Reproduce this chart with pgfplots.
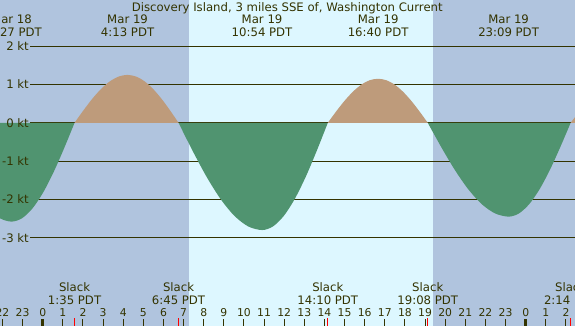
\documentclass[border=0pt]{standalone}
\usepackage{pgfplots}
\pgfplotsset{compat=1.18}
\usepackage{fontspec}
\setmainfont{DejaVu Sans}
\definecolor{night}{RGB}{176,196,222}
\definecolor{day}{RGB}{221,247,255}
\definecolor{ebb}{RGB}{80,148,112}
\definecolor{flood}{RGB}{190,155,123}
\definecolor{fg}{RGB}{51,51,0}
\tikzset{
  lab/.style={text=fg, font=\fontsize{11.7}{14}\selectfont, inner sep=0pt},
  hr/.style={text=fg, font=\fontsize{10.8}{12}\selectfont, inner sep=0pt, anchor=base},
}
\begin{document}
\begin{tikzpicture}
\useasboundingbox (0,0) rectangle (575pt,326pt);
\begin{axis}[scale only axis, width=575pt, height=326pt,
  at={(0,0)}, anchor=south west,
  xmin=-2.122, xmax=26.45, ymin=-5.305, ymax=3.206,
  axis lines=none, clip=true,
]
% backgrounds
\fill[night] (rel axis cs:0,0) rectangle (rel axis cs:1,1);
\fill[day] (axis cs:7.27,-6) rectangle (axis cs:19.38,4);
% grid lines
\pgfplotsinvokeforeach{2,1,0,-1,-2,-3}{
  \draw[fg, line width=1pt] (axis cs:-0.631,#1) -- (axis cs:27,#1);
}
% ebb (negative) areas
\addplot[fill=ebb, draw=none, smooth] coordinates {
(-3.275,-1.824) (-2.70,-2.234) (-2.125,-2.492) (-1.55,-2.58) (-1.028,-2.492) (-0.506,-2.234) (0.017,-1.824) (0.539,-1.29) (1.061,-0.668) (1.583,0)
} \closedcycle;
\addplot[fill=flood, draw=none, smooth] coordinates {
(1.583,0) (2.022,0.3235) (2.461,0.625) (2.900,0.884) (3.339,1.0825) (3.778,1.2074) (4.217,1.25) (4.639,1.2074) (5.061,1.0825) (5.483,0.884) (5.906,0.625) (6.328,0.3235) (6.75,0)
} \closedcycle;
\addplot[fill=ebb, draw=none, smooth] coordinates {
(6.75,0) (7.442,-0.7246) (8.133,-1.4) (8.825,-1.980) (9.517,-2.425) (10.208,-2.7045) (10.9,-2.8) (11.444,-2.7045) (11.989,-2.425) (12.533,-1.980) (13.078,-1.4) (13.622,-0.7246) (14.167,0)
} \closedcycle;
\addplot[fill=flood, draw=none, smooth] coordinates {
(14.167,0) (14.583,0.2976) (15.0,0.575) (15.417,0.8132) (15.833,0.9959) (16.25,1.1108) (16.667,1.15) (17.078,1.1108) (17.489,0.9959) (17.9,0.8132) (18.311,0.575) (18.722,0.2976) (19.133,0)
} \closedcycle;
\addplot[fill=ebb, draw=none, smooth] coordinates {
(19.133,0) (19.803,-0.634) (20.472,-1.225) (21.142,-1.7324) (21.811,-2.1217) (22.481,-2.3665) (23.15,-2.45) (23.664,-2.3665) (24.178,-2.1217) (24.692,-1.7324) (25.206,-1.225) (25.719,-0.634) (26.233,0)
} \closedcycle;
\addplot[fill=flood, draw=none, smooth] coordinates {
(26.233,0) (26.69,0.31) (27.15,0.6)
} \closedcycle;
% y labels
\node[lab, anchor=east] at (axis cs:-0.68,2) {2 kt};
\node[lab, anchor=east] at (axis cs:-0.68,1) {1 kt};
\node[lab, anchor=east] at (axis cs:-0.68,0) {0 kt};
\node[lab, anchor=east] at (axis cs:-0.68,-1) {-1 kt};
\node[lab, anchor=east] at (axis cs:-0.68,-2) {-2 kt};
\node[lab, anchor=east] at (axis cs:-0.68,-3) {-3 kt};
% title
\node[lab, anchor=base] at (axis cs:12.15,2.906) {Discovery Island, 3 miles SSE of, Washington Current};
% top event labels
\node[lab, anchor=base] at (axis cs:-1.55,2.580) {Mar 18};
\node[lab, anchor=base] at (axis cs:-1.55,2.266) {22:27 PDT};
\node[lab, anchor=base] at (axis cs:4.217,2.580) {Mar 19};
\node[lab, anchor=base] at (axis cs:4.217,2.266) {4:13 PDT};
\node[lab, anchor=base] at (axis cs:10.9,2.580) {Mar 19};
\node[lab, anchor=base] at (axis cs:10.9,2.266) {10:54 PDT};
\node[lab, anchor=base] at (axis cs:16.667,2.580) {Mar 19};
\node[lab, anchor=base] at (axis cs:16.667,2.266) {16:40 PDT};
\node[lab, anchor=base] at (axis cs:23.15,2.580) {Mar 19};
\node[lab, anchor=base] at (axis cs:23.15,2.266) {23:09 PDT};
% slack labels
\node[lab, anchor=base] at (axis cs:1.583,-4.399) {Slack};
\node[lab, anchor=base] at (axis cs:1.583,-4.731) {1:35 PDT};
\node[lab, anchor=base] at (axis cs:6.75,-4.399) {Slack};
\node[lab, anchor=base] at (axis cs:6.75,-4.731) {6:45 PDT};
\node[lab, anchor=base] at (axis cs:14.167,-4.399) {Slack};
\node[lab, anchor=base] at (axis cs:14.167,-4.731) {14:10 PDT};
\node[lab, anchor=base] at (axis cs:19.133,-4.399) {Slack};
\node[lab, anchor=base] at (axis cs:19.133,-4.731) {19:08 PDT};
\node[lab, anchor=base] at (axis cs:26.233,-4.399) {Slack};
\node[lab, anchor=base] at (axis cs:26.233,-4.731) {2:14 PDT};
% hour ticks
\pgfplotsinvokeforeach{-2,-1,1,2,3,4,5,6,7,8,9,10,11,12,13,14,15,16,17,18,19,20,21,22,23,25,26}{
  \draw[fg, line width=1pt] (axis cs:#1,-5.13) -- (axis cs:#1,-5.4);
}
\pgfplotsinvokeforeach{0,24}{
  \draw[fg, line width=3pt] (axis cs:#1,-5.13) -- (axis cs:#1,-5.4);
}
\pgfplotsinvokeforeach{1.583,6.75,14.167,19.133,26.233}{
  \draw[red, line width=1pt] (axis cs:#1,-5.10) -- (axis cs:#1,-5.4);
}
% hour labels
\node[hr] at (axis cs:-2,-5.044) {22};
\node[hr] at (axis cs:-1,-5.044) {23};
\node[hr] at (axis cs:0,-5.044) {0};
\node[hr] at (axis cs:1,-5.044) {1};
\node[hr] at (axis cs:2,-5.044) {2};
\node[hr] at (axis cs:3,-5.044) {3};
\node[hr] at (axis cs:4,-5.044) {4};
\node[hr] at (axis cs:5,-5.044) {5};
\node[hr] at (axis cs:6,-5.044) {6};
\node[hr] at (axis cs:7,-5.044) {7};
\node[hr] at (axis cs:8,-5.044) {8};
\node[hr] at (axis cs:9,-5.044) {9};
\node[hr] at (axis cs:10,-5.044) {10};
\node[hr] at (axis cs:11,-5.044) {11};
\node[hr] at (axis cs:12,-5.044) {12};
\node[hr] at (axis cs:13,-5.044) {13};
\node[hr] at (axis cs:14,-5.044) {14};
\node[hr] at (axis cs:15,-5.044) {15};
\node[hr] at (axis cs:16,-5.044) {16};
\node[hr] at (axis cs:17,-5.044) {17};
\node[hr] at (axis cs:18,-5.044) {18};
\node[hr] at (axis cs:19,-5.044) {19};
\node[hr] at (axis cs:20,-5.044) {20};
\node[hr] at (axis cs:21,-5.044) {21};
\node[hr] at (axis cs:22,-5.044) {22};
\node[hr] at (axis cs:23,-5.044) {23};
\node[hr] at (axis cs:24,-5.044) {0};
\node[hr] at (axis cs:25,-5.044) {1};
\node[hr] at (axis cs:26,-5.044) {2};
\end{axis}
\end{tikzpicture}
\end{document}
